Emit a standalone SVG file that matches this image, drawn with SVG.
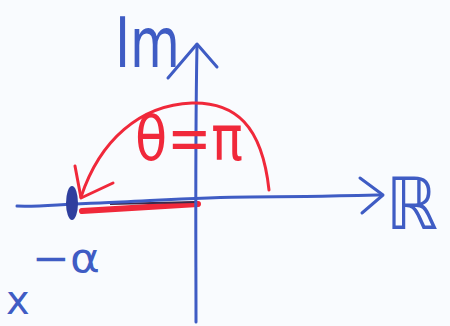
<svg xmlns="http://www.w3.org/2000/svg" width="450" height="326" viewBox="0 0 450 326">
<style>
.blue{stroke:#3f5cc4;fill:none;stroke-width:3;stroke-linecap:round;stroke-linejoin:round}
.red{stroke:#f0283a;fill:none;stroke-width:3;stroke-linecap:round;stroke-linejoin:round}
.bt{fill:#3f5cc4;font-family:"DejaVu Sans",sans-serif}
.rt{fill:#f0283a;font-family:"DejaVu Sans",sans-serif}
</style>
<rect width="450" height="326" fill="#f9fbfe"/>
<g id="negative-axis-highlight">
<path d="M82,211 L198,204" stroke="#f0283a" stroke-width="6" stroke-linecap="round" fill="none"/>
<path d="M110,204 L196,202" stroke="#3a2a4a" stroke-width="2" fill="none"/>
</g>
<g id="axes">
<path class="blue" d="M17,206 C40,207 60,204 100,203 C150,201 200,197 250,197 C300,197 340,196 382,195"/>
<path class="blue" d="M360,178 L383,195 L362,213"/>
<path class="blue" d="M196,322 C196,250 195,150 197,45"/>
<path class="blue" d="M168,78 L197,44 L217,67"/>
</g>
<g id="point-minus-alpha">
<ellipse cx="72" cy="203" rx="6" ry="17" fill="#2f3f9e"/>
<text class="bt" x="32" y="272" font-size="40" textLength="68" lengthAdjust="spacingAndGlyphs">−α</text>
</g>
<g id="rotation-arc">
<path class="red" d="M269,190 C262,125 235,102 192,103 C140,105 100,140 81,197"/>
<path class="red" d="M75,166 L81,198 L113,183"/>
<text class="rt" x="135" y="160" font-size="62" textLength="108" lengthAdjust="spacingAndGlyphs">θ=π</text>
</g>
<g id="labels">
<text class="bt" x="115" y="67" font-size="70" textLength="65" lengthAdjust="spacingAndGlyphs">Im</text>
<text class="bt" x="386" y="229" font-size="72" textLength="52" lengthAdjust="spacingAndGlyphs">ℝ</text>
<text class="bt" x="6" y="314" font-size="40">x</text>
</g>
</svg>
